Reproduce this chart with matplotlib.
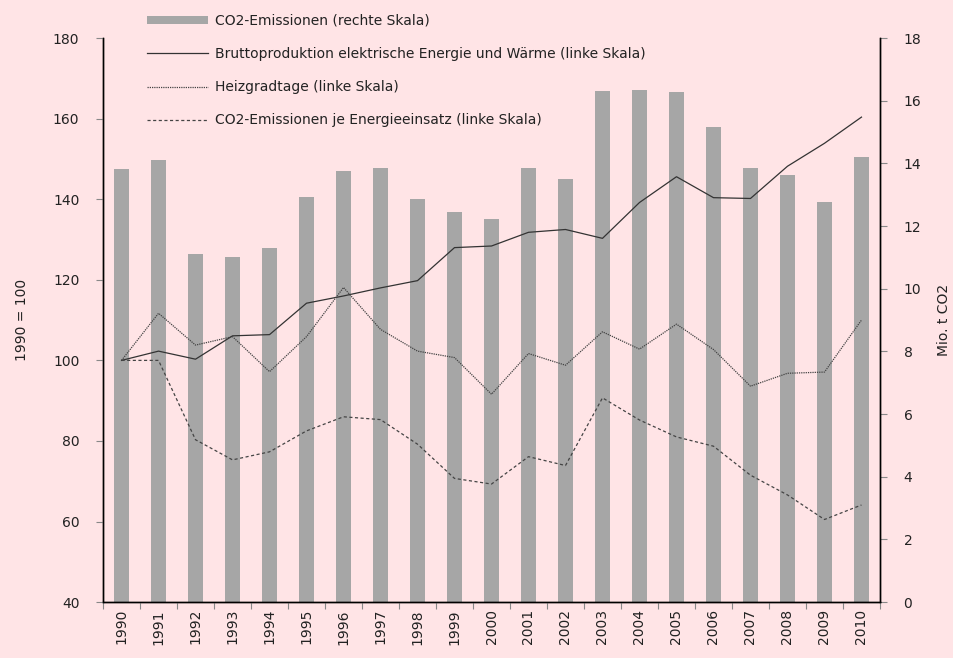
import matplotlib
matplotlib.use("Agg")
import matplotlib.pyplot as plt
import numpy as np
from matplotlib.patches import Patch
from matplotlib.lines import Line2D

years = [str(y) for y in range(1990, 2011)]
co2_emissions = [13.81, 14.11, 11.11, 11.01, 11.31, 12.93, 13.75, 13.84, 12.86, 12.46, 12.22,
                 13.84, 13.49, 16.30, 16.34, 16.29, 15.17, 13.85, 13.63, 12.77, 14.20]
brutto = [100, 102.3, 100.3, 106.1, 106.4, 114.2, 116.0, 118.0, 119.8, 128.0, 128.4,
          131.8, 132.5, 130.3, 139.2, 145.6, 140.4, 140.2, 148.2, 153.9, 160.4]
heizgradtage = [100, 111.7, 103.8, 105.9, 97.2, 105.9, 118.1, 107.7, 102.3, 100.7, 91.6,
                101.7, 98.8, 107.1, 102.8, 109.0, 102.7, 93.6, 96.8, 97.1, 110.0]
co2_je = [100, 100, 80.3, 75.3, 77.3, 82.5, 86.0, 85.3, 79.2, 70.7, 69.3,
          76.1, 73.9, 90.7, 85.2, 81.0, 78.7, 71.5, 66.6, 60.5, 64.1]

labels = ["CO2-Emissionen (rechte Skala)",
          "Bruttoproduktion elektrische Energie und Wärme (linke Skala)",
          "Heizgradtage (linke Skala)",
          "CO2-Emissionen je Energieeinsatz (linke Skala)"]

plt.rcParams['font.family'] = ['DejaVu Sans']
bg = '#FFE4E6'
fig = plt.figure(figsize=(9.54, 6.58), dpi=100, facecolor=bg)
ax = fig.add_axes([0.108, 0.085, 0.8144, 0.857])
ax2 = ax.twinx()

x = np.arange(len(years))
ax2.bar(x, co2_emissions, width=0.41, color='#A6A6A6', zorder=1)
ax.set_zorder(ax2.get_zorder() + 1)
ax.patch.set_visible(False)
ax2.patch.set_visible(False)

ax.plot(x, brutto, color='#333333', lw=0.9, ls='-')
ax.plot(x, heizgradtage, color='#444444', lw=0.9, ls=(0, (1, 0.8)))
ax.plot(x, co2_je, color='#444444', lw=0.9, ls=(0, (2.5, 2)))

ax.set_xlim(-0.5, len(years) - 0.5)
ax.set_ylim(40, 180)
ax.set_yticks(np.arange(40, 181, 20))
ax2.set_ylim(0, 18)
ax2.set_yticks(np.arange(0, 19, 2))

# x ticks at category boundaries, labels at centers
ax.set_xticks(np.arange(-0.5, len(years), 1.0))
ax.set_xticklabels([])
ax.set_xticks(x, minor=True)
ax.set_xticklabels(years, minor=True, rotation=90, fontsize=10, color='#222222')
ax.tick_params(axis='x', which='minor', length=0, pad=5)
ax.tick_params(axis='x', which='major', length=5, color='#888888', direction='out')
ax.tick_params(axis='y', length=5, color='#888888', labelsize=10, labelcolor='#222222', pad=12)
ax2.tick_params(axis='y', length=5, color='#888888', labelsize=10, labelcolor='#222222', pad=12)

for a in (ax, ax2):
    a.spines['top'].set_visible(False)
    for s in ('left', 'right', 'bottom'):
        a.spines[s].set_color('black')
        a.spines[s].set_linewidth(1.0)

ax.set_ylabel("1990 = 100", fontsize=10, color='#222222', labelpad=17)
ax2.set_ylabel("Mio. t CO2", fontsize=10, color='#222222', labelpad=11, rotation=90)

handles = [Patch(facecolor='#A6A6A6', edgecolor='none'),
           Line2D([], [], color='#333333', lw=0.9),
           Line2D([], [], color='#444444', lw=0.9, ls=(0, (1, 0.8))),
           Line2D([], [], color='#444444', lw=0.9, ls=(0, (2.5, 2)))]
fig.legend(handles, labels, loc='upper left', bbox_to_anchor=(0.141, 0.998),
           frameon=False, fontsize=10, handlelength=4.4, handleheight=0.55,
           labelspacing=1.38, handletextpad=0.5, labelcolor='#222222')

fig.savefig("out.png", dpi=100, facecolor=bg)
